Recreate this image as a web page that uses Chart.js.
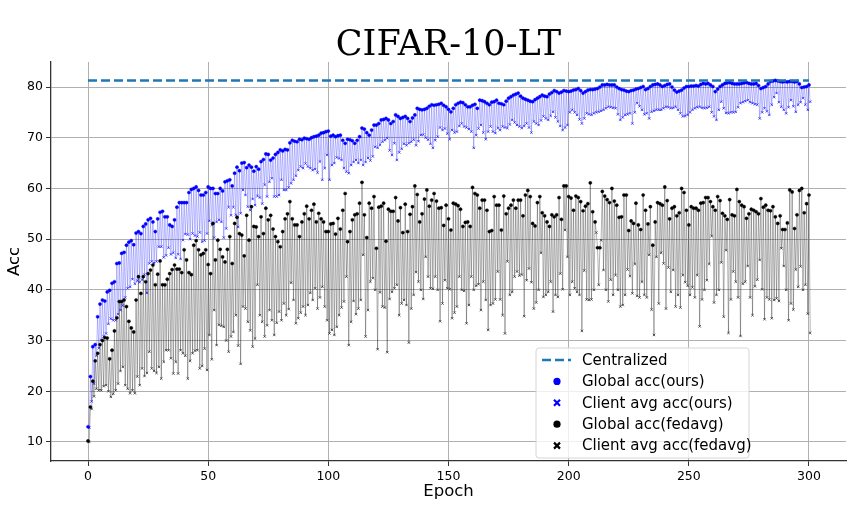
<!DOCTYPE html>
<html>
<head>
<meta charset="utf-8">
<title>CIFAR-10-LT</title>
<script src="https://cdn.jsdelivr.net/npm/chart.js@4.4.1/dist/chart.umd.min.js"></script>
<style>
  html, body { margin: 0; padding: 0; background: #fff; }
  canvas { display: block; }
</style>
</head>
<body>
<canvas id="chart" width="863" height="518"></canvas>
<script>
// Values, one per epoch (0..300)
const globalOurs = [
  13.0, 22.9, 28.8, 29.2, 34.7, 37.2, 38.0, 37.8, 39.6, 39.9,
  41.3, 41.6, 45.2, 45.3, 47.2, 47.4, 48.8, 49.4, 49.7, 48.9,
  51.2, 51.5, 51.1, 52.5, 53.0, 53.8, 54.1, 53.4, 51.5, 54.0,
  55.3, 55.5, 54.4, 54.4, 52.8, 52.5, 53.8, 56.3, 57.2, 57.2,
  57.2, 57.2, 59.2, 59.8, 60.0, 60.3, 59.6, 58.7, 58.7, 59.2,
  60.3, 60.0, 60.0, 59.0, 59.0, 60.0, 59.5, 61.3, 61.5, 61.7,
  60.5, 63.0, 64.2, 63.5, 65.0, 65.1, 64.1, 64.6, 64.2, 63.4,
  64.3, 63.8, 65.3, 65.7, 66.8, 66.7, 65.6, 66.0, 66.7, 67.1,
  67.6, 67.4, 67.7, 67.6, 69.0, 69.5, 69.3, 69.2, 69.7, 69.6,
  69.9, 69.8, 69.7, 70.0, 70.2, 70.3, 70.5, 70.9, 71.0, 71.2,
  71.3, 70.3, 70.5, 70.2, 70.4, 70.5, 69.5, 68.9, 69.7, 69.6,
  69.4, 68.9, 69.5, 70.2, 71.9, 71.7, 71.0, 70.5, 71.5, 72.5,
  72.5, 72.8, 73.5, 73.6, 73.8, 73.5, 72.8, 73.2, 74.5, 74.2,
  73.8, 74.0, 74.2, 73.8, 73.2, 73.9, 74.5, 75.8, 75.6, 75.5,
  75.6, 75.8, 76.2, 76.5, 76.4, 76.5, 76.6, 76.8, 76.4, 76.1,
  75.6, 75.1, 75.8, 76.5, 76.8, 77.0, 76.9, 76.5, 76.1, 76.1,
  76.4, 76.6, 75.8, 77.4, 77.3, 77.1, 76.8, 76.5, 77.0, 77.1,
  77.4, 76.8, 76.7, 76.5, 77.2, 77.8, 78.1, 78.4, 78.6, 78.8,
  78.2, 77.8, 77.6, 77.4, 77.2, 77.1, 77.5, 77.8, 78.1, 78.4,
  78.2, 78.1, 78.6, 78.9, 79.3, 79.1, 78.8, 79.0, 79.3, 79.2,
  79.1, 79.2, 79.4, 79.5, 79.7, 79.3, 78.8, 79.1, 79.4, 79.5,
  79.5, 79.6, 79.7, 80.0, 80.4, 80.4, 80.5, 80.4, 80.4, 80.4,
  80.0, 79.7, 79.5, 79.4, 79.2, 79.1, 79.3, 79.4, 79.6, 79.7,
  79.9, 80.1, 79.5, 79.7, 80.1, 80.4, 80.5, 80.6, 80.4, 80.1,
  80.3, 80.5, 80.6, 80.0, 79.4, 79.0, 79.2, 79.4, 79.8, 80.1,
  80.1, 80.2, 80.2, 80.3, 80.2, 80.5, 80.7, 80.6, 80.7, 80.4,
  80.1, 79.1, 79.6, 80.1, 80.4, 80.7, 80.8, 80.9, 80.7, 80.6,
  80.6, 80.6, 80.7, 80.8, 80.9, 80.7, 80.6, 80.6, 80.7, 80.3,
  79.7, 79.9, 80.1, 80.6, 81.1, 81.2, 81.3, 81.2, 81.1, 81.0,
  81.1, 81.0, 81.1, 81.1, 81.0, 81.1, 80.6, 79.9, 80.0, 80.1,
  80.4
];

const clientOurs = [
  12.8, 18.0, 21.5, 27.0, 28.5, 30.1, 30.8, 31.4, 33.3, 34.3,
  34.0, 34.0, 35.2, 36.0, 36.9, 38.5, 40.3, 40.6, 42.1, 41.2,
  41.8, 41.5, 42.0, 43.0, 39.4, 45.2, 45.6, 45.3, 45.6, 48.5,
  48.5, 46.4, 46.8, 48.3, 47.0, 47.3, 46.3, 47.0, 46.1, 49.8,
  51.0, 50.9, 50.0, 51.1, 50.7, 50.5, 51.3, 49.5, 49.7, 51.1,
  53.6, 52.8, 50.3, 53.4, 53.8, 53.4, 50.3, 52.1, 56.3, 54.7,
  56.3, 54.8, 52.4, 55.1, 59.7, 58.7, 56.4, 55.7, 57.9, 56.7,
  58.5, 58.2, 57.0, 60.7, 58.4, 61.3, 62.0, 58.4, 58.4, 58.7,
  61.7, 59.7, 59.7, 60.2, 61.0, 61.7, 62.5, 63.6, 64.3, 64.0,
  64.9, 64.3, 64.0, 63.6, 63.8, 63.1, 65.3, 61.7, 64.0, 66.6,
  61.7, 64.6, 65.0, 66.1, 65.9, 65.6, 64.0, 63.3, 63.0, 64.6,
  65.2, 65.6, 65.0, 65.6, 64.6, 65.2, 66.0, 65.5, 66.3, 68.2,
  68.0, 68.6, 69.2, 69.5, 69.9, 67.5, 66.6, 68.9, 65.6, 67.1,
  67.8, 68.8, 68.5, 68.9, 69.2, 69.6, 68.5, 69.3, 70.5, 70.6,
  70.0, 69.6, 68.8, 68.0, 69.5, 70.2, 72.0, 71.5, 71.8, 70.8,
  69.7, 71.5, 71.0, 71.2, 72.3, 72.8, 72.2, 72.0, 71.7, 71.2,
  68.0, 70.5, 71.8, 72.5, 71.0, 69.7, 71.2, 72.2, 71.2, 70.9,
  71.9, 71.5, 72.2, 72.0, 71.9, 72.6, 73.5, 73.0, 72.5, 72.2,
  71.9, 72.3, 72.8, 72.0, 71.0, 73.2, 72.8, 72.5, 73.4, 74.2,
  73.8, 73.5, 74.3, 75.1, 74.0, 73.2, 72.3, 71.5, 72.0, 72.5,
  75.0, 75.5, 75.0, 74.5, 73.6, 72.8, 73.8, 74.8, 74.6, 74.5,
  74.8, 75.0, 75.1, 75.3, 75.5, 75.8, 76.1, 76.0, 75.9, 75.8,
  74.6, 73.5, 74.0, 74.5, 74.6, 74.8, 72.8, 75.0, 76.8, 76.2,
  75.5, 74.6, 74.8, 73.8, 75.1, 75.3, 75.5, 75.5, 75.5, 75.8,
  76.1, 76.0, 75.8, 75.9, 76.1, 75.5, 74.8, 74.2, 74.3, 74.5,
  75.0, 75.5, 75.8, 76.0, 76.1, 75.9, 75.8, 75.9, 76.1, 75.0,
  74.2, 73.5, 75.5, 77.1, 75.8, 74.9, 74.8, 75.0, 75.0, 75.1,
  76.0, 76.8, 77.0, 77.2, 77.4, 77.0, 76.8, 76.6, 76.5, 73.8,
  75.0, 75.8, 75.2, 74.5, 76.5, 78.0, 78.8, 77.0, 76.1, 75.5,
  74.8, 76.0, 77.4, 76.2, 75.1, 76.5, 77.0, 77.8, 76.5, 75.5,
  77.1
];

const globalFedavg = [
  10.2, 16.9, 22.0, 26.0, 27.5, 29.2, 30.0, 30.6, 30.5, 26.4,
  28.1, 31.9, 34.5, 37.7, 37.7, 38.0, 36.7, 33.8, 32.5, 31.7,
  38.0, 42.6, 39.3, 42.6, 41.6, 43.2, 43.9, 44.9, 41.0, 43.1,
  45.7, 41.0, 41.0, 42.1, 43.2, 44.0, 44.9, 44.1, 44.1, 43.4,
  47.9, 45.9, 43.4, 43.0, 48.8, 49.7, 47.9, 46.9, 47.2, 47.9,
  45.0, 43.2, 53.1, 45.9, 49.8, 48.0, 46.5, 45.5, 48.0, 50.5,
  45.2, 53.1, 54.3, 51.1, 50.8, 46.7, 54.7, 49.8, 56.4, 52.5,
  52.4, 50.5, 54.4, 51.1, 56.1, 53.8, 54.7, 52.0, 50.5, 49.5,
  48.5, 51.5, 54.0, 55.0, 57.4, 54.0, 52.8, 52.8, 50.5, 53.4,
  55.0, 56.5, 54.0, 55.7, 56.9, 53.4, 55.1, 54.0, 53.4, 51.5,
  51.5, 53.0, 53.1, 51.0, 54.1, 52.0, 55.7, 59.0, 49.5, 51.5,
  53.8, 54.8, 55.0, 57.1, 61.2, 54.8, 50.3, 57.1, 56.1, 58.4,
  48.2, 56.3, 56.5, 57.1, 49.6, 55.9, 55.5, 55.5, 58.2, 53.6,
  56.2, 51.3, 56.9, 51.5, 54.9, 56.4, 60.5, 58.8, 53.4, 55.0,
  57.9, 59.7, 56.5, 57.7, 59.0, 57.5, 56.1, 56.2, 52.7, 56.7,
  54.0, 51.8, 57.1, 56.9, 56.6, 55.9, 52.5, 53.3, 53.4, 52.5,
  60.2, 59.0, 58.7, 56.1, 57.7, 57.7, 55.7, 51.5, 51.7, 58.4,
  56.7, 56.7, 51.8, 58.5, 55.0, 56.1, 56.7, 57.7, 56.1, 57.7,
  57.7, 54.6, 58.7, 59.6, 58.4, 53.1, 52.6, 57.2, 58.4, 55.2,
  54.6, 53.4, 52.5, 54.8, 54.4, 54.8, 58.2, 53.9, 60.5, 60.5,
  58.4, 58.1, 55.7, 58.5, 58.2, 57.4, 55.6, 56.5, 57.0, 61.1,
  55.4, 53.4, 48.3, 48.3, 59.4, 58.5, 57.8, 57.2, 60.0, 57.5,
  56.7, 54.3, 54.4, 58.7, 58.7, 51.7, 53.6, 53.1, 57.1, 52.8,
  51.9, 58.7, 55.7, 53.0, 56.4, 48.8, 53.4, 57.2, 57.0, 56.7,
  60.3, 57.6, 54.0, 56.1, 56.4, 54.6, 55.2, 60.0, 59.2, 55.7,
  52.8, 56.4, 56.1, 56.1, 55.7, 57.1, 57.2, 58.2, 58.2, 57.4,
  56.4, 55.7, 58.4, 57.6, 55.1, 54.6, 53.9, 57.8, 54.8, 54.6,
  59.8, 57.4, 56.7, 56.4, 54.1, 55.0, 55.9, 55.7, 55.4, 55.0,
  58.0, 56.3, 56.7, 55.7, 55.6, 56.4, 54.4, 53.1, 54.6, 51.9,
  51.9, 53.2, 59.7, 59.3, 52.1, 54.8, 59.6, 60.0, 55.2, 57.0,
  58.7
];

const clientFedavg = [
  10.0, 16.5, 19.0, 20.5, 20.2, 20.2, 21.0, 21.2, 20.0, 18.9,
  19.5, 20.2, 21.5, 24.0, 24.8, 21.2, 20.5, 19.6, 20.2, 19.6,
  22.9, 21.2, 24.5, 23.0, 23.6, 27.8, 24.5, 24.0, 23.6, 24.8,
  22.5, 25.8, 28.1, 28.1, 26.5, 23.5, 25.8, 23.5, 28.1, 27.5,
  27.0, 22.5, 26.0, 27.5, 28.0, 28.1, 24.5, 25.0, 28.4, 24.2,
  31.1, 26.3, 36.0, 29.1, 33.1, 32.9, 32.7, 30.0, 27.8, 30.8,
  31.7, 35.0, 29.0, 25.4, 36.7, 36.3, 33.7, 32.0, 28.8, 30.4,
  41.0, 35.0, 33.7, 30.8, 33.0, 36.0, 34.0, 31.1, 33.5, 35.7,
  34.0, 37.3, 35.0, 36.2, 41.4, 38.0, 33.4, 34.4, 35.5, 36.7,
  35.0, 37.0, 39.4, 38.0, 40.3, 36.3, 38.5, 40.6, 36.7, 34.0,
  31.4, 32.1, 31.1, 32.7, 35.0, 36.5, 37.7, 42.6, 29.1, 33.7,
  37.8, 35.2, 36.3, 38.0, 46.9, 30.8, 36.0, 41.6, 42.3, 40.0,
  28.3, 39.5, 36.7, 36.5, 27.7, 38.2, 39.6, 40.3, 41.0, 35.0,
  37.3, 38.0, 37.0, 29.6, 36.3, 39.0, 43.5, 41.6, 40.0, 38.2,
  46.5, 42.6, 40.3, 40.2, 42.6, 40.0, 33.8, 37.3, 41.9, 40.3,
  40.1, 34.4, 35.5, 36.7, 42.6, 40.0, 39.8, 33.4, 37.0, 42.6,
  40.0, 40.8, 41.1, 36.0, 41.6, 38.0, 32.1, 37.0, 37.3, 38.1,
  43.6, 38.1, 35.0, 31.4, 45.6, 39.0, 39.6, 42.6, 43.6, 42.8,
  43.0, 34.8, 41.9, 44.2, 41.5, 36.3, 37.5, 40.0, 47.3, 38.6,
  39.0, 39.6, 41.6, 35.7, 39.0, 38.6, 43.2, 40.1, 51.8, 46.5,
  39.0, 41.6, 40.3, 39.6, 39.0, 31.9, 43.8, 38.1, 38.0, 38.1,
  40.0, 51.3, 41.0, 49.8, 43.9, 40.0, 37.7, 42.0, 39.0, 42.9,
  40.0, 36.7, 37.0, 39.0, 44.0, 42.7, 39.3, 45.1, 38.8, 38.5,
  41.6, 39.0, 38.5, 46.9, 36.1, 31.1, 46.5, 37.3, 47.3, 45.2,
  36.3, 44.4, 39.6, 43.9, 36.7, 39.0, 36.5, 42.9, 41.5, 40.8,
  39.0, 40.5, 38.5, 42.9, 32.8, 38.1, 40.0, 41.9, 45.1, 50.6,
  37.5, 39.0, 40.0, 45.4, 34.7, 47.8, 31.5, 38.1, 43.6, 41.6,
  38.5, 30.9, 41.2, 41.6, 44.7, 38.5, 35.0, 40.7, 42.0, 45.9,
  40.1, 34.2, 38.5, 38.1, 34.4, 38.0, 38.3, 37.8, 48.2, 44.7,
  40.0, 34.0, 37.3, 36.1, 44.0, 40.6, 44.6, 40.0, 41.0, 35.3,
  31.5
];

const centralizedAcc = 81.3;
const lastEpoch = 300;

const xTicks = [0, 50, 100, 150, 200, 250, 300];
const yTicks = [10, 20, 30, 40, 50, 60, 70, 80];

const legendItems = [
  { text: 'Centralized', kind: 'dash', color: '#1f77b4' },
  { text: 'Global acc(ours)', kind: 'dot', color: '#0000ff' },
  { text: 'Client avg acc(ours)', kind: 'cross', color: '#0000ff' },
  { text: 'Global acc(fedavg)', kind: 'dot', color: '#000000' },
  { text: 'Client avg acc(fedavg)', kind: 'cross', color: '#000000' }
];

Chart.defaults.font.family = '"DejaVu Sans", sans-serif';
Chart.defaults.color = '#000';

// client value sits half an epoch after the global one, so the line zigzags
const clientShift = 0.5;

function toPoints(values, shift) {
  return values.map((v, i) => ({ x: i + shift, y: v }));
}

// global, client, global, client ...
function zigzag(globalVals, clientVals) {
  const out = [];
  globalVals.forEach((v, i) => {
    out.push({ x: i, y: v });
    out.push({ x: i + clientShift, y: clientVals[i] });
  });
  return out;
}

// title, axis titles and the legend box drawn on top of the chart
const decorations = {
  id: 'decorations',
  afterDraw(chart) {
    const ctx = chart.ctx;
    const area = chart.chartArea;
    ctx.save();

    ctx.fillStyle = '#000';
    ctx.font = '35px "DejaVu Serif", serif';
    ctx.textAlign = 'center';
    ctx.textBaseline = 'alphabetic';
    ctx.fillText('CIFAR-10-LT', (area.left + area.right) / 2, 55);

    ctx.font = '16.5px "DejaVu Sans", sans-serif';
    ctx.textBaseline = 'middle';
    ctx.fillText('Epoch', (area.left + area.right) / 2, 492);

    ctx.save();
    ctx.translate(15, (area.top + area.bottom) / 2);
    ctx.rotate(-Math.PI / 2);
    ctx.fillText('Acc', 0, 0);
    ctx.restore();

    // legend box
    const bx = 536, by = 348, bw = 213, bh = 110, r = 3;
    ctx.beginPath();
    ctx.moveTo(bx + r, by);
    ctx.lineTo(bx + bw - r, by);
    ctx.quadraticCurveTo(bx + bw, by, bx + bw, by + r);
    ctx.lineTo(bx + bw, by + bh - r);
    ctx.quadraticCurveTo(bx + bw, by + bh, bx + bw - r, by + bh);
    ctx.lineTo(bx + r, by + bh);
    ctx.quadraticCurveTo(bx, by + bh, bx, by + bh - r);
    ctx.lineTo(bx, by + r);
    ctx.quadraticCurveTo(bx, by, bx + r, by);
    ctx.closePath();
    ctx.fillStyle = 'rgba(255,255,255,0.8)';
    ctx.fill();
    ctx.strokeStyle = '#d6d6d6';
    ctx.lineWidth = 1;
    ctx.stroke();

    ctx.font = '15px "DejaVu Sans", sans-serif';
    ctx.textAlign = 'left';
    legendItems.forEach((item, i) => {
      const y = 360 + i * 21.4;
      const hx = 557;
      ctx.strokeStyle = item.color;
      ctx.fillStyle = item.color;
      if (item.kind === 'dash') {
        ctx.lineWidth = 2.5;
        ctx.setLineDash([9, 4]);
        ctx.beginPath();
        ctx.moveTo(542, y);
        ctx.lineTo(571, y);
        ctx.stroke();
        ctx.setLineDash([]);
      } else if (item.kind === 'dot') {
        ctx.beginPath();
        ctx.arc(hx, y, 3.6, 0, Math.PI * 2);
        ctx.fill();
      } else {
        ctx.lineWidth = 2.2;
        ctx.beginPath();
        ctx.moveTo(hx - 3, y - 3);
        ctx.lineTo(hx + 3, y + 3);
        ctx.moveTo(hx - 3, y + 3);
        ctx.lineTo(hx + 3, y - 3);
        ctx.stroke();
      }
      ctx.fillStyle = '#000';
      ctx.fillText(item.text, 582, y + 1);
    });

    ctx.restore();
  }
};

const ctx = document.getElementById('chart').getContext('2d');
const myChart = new Chart(ctx, {
  type: 'scatter',
  data: {
    datasets: [
      {
        label: 'Centralized',
        data: [{ x: 0, y: centralizedAcc }, { x: lastEpoch, y: centralizedAcc }],
        showLine: true,
        borderColor: '#1f77b4',
        borderWidth: 2.5,
        borderDash: [9, 4],
        pointRadius: 0,
        order: 0
      },
      {
        label: 'Global acc(fedavg)',
        data: toPoints(globalFedavg, 0),
        pointStyle: 'circle',
        pointRadius: 1.6,
        backgroundColor: '#000',
        borderColor: '#000',
        borderWidth: 0.4,
        order: 1
      },
      {
        label: 'Client avg acc(fedavg)',
        data: toPoints(clientFedavg, clientShift),
        pointStyle: 'crossRot',
        pointRadius: 1.7,
        borderColor: '#333',
        borderWidth: 0.8,
        order: 2
      },
      {
        label: 'fedavg line',
        data: zigzag(globalFedavg, clientFedavg),
        showLine: true,
        borderColor: 'rgba(0,0,0,0.38)',
        borderWidth: 0.8,
        pointRadius: 0,
        order: 3
      },
      {
        label: 'Global acc(ours)',
        data: toPoints(globalOurs, 0),
        pointStyle: 'circle',
        pointRadius: 1.6,
        backgroundColor: '#0000ff',
        borderColor: '#0000ff',
        borderWidth: 0.4,
        order: 4
      },
      {
        label: 'Client avg acc(ours)',
        data: toPoints(clientOurs, clientShift),
        pointStyle: 'crossRot',
        pointRadius: 1.7,
        borderColor: '#2020ff',
        borderWidth: 0.8,
        order: 5
      },
      {
        label: 'ours line',
        data: zigzag(globalOurs, clientOurs),
        showLine: true,
        borderColor: 'rgba(0,0,255,0.33)',
        borderWidth: 0.8,
        pointRadius: 0,
        order: 6
      }
    ]
  },
  options: {
    responsive: false,
    animation: false,
    events: [],
    layout: { padding: { top: 62, right: 17, left: 0, bottom: 0 } },
    plugins: {
      legend: { display: false },
      tooltip: { enabled: false },
      title: { display: false }
    },
    scales: {
      x: {
        type: 'linear',
        min: -15.4,
        max: 315.4,
        afterBuildTicks: (scale) => { scale.ticks = xTicks.map(v => ({ value: v })); },
        afterFit: (scale) => { scale.height = 57; },
        grid: { color: '#b0b0b0', lineWidth: 1, tickLength: 5, tickColor: '#333' },
        border: { color: '#333', width: 1.3 },
        ticks: { font: { size: 12.5 }, padding: 3, maxRotation: 0, color: '#000' }
      },
      y: {
        type: 'linear',
        min: 6.25,
        max: 84.93,
        afterBuildTicks: (scale) => { scale.ticks = yTicks.map(v => ({ value: v })); },
        afterFit: (scale) => { scale.width = 51; },
        grid: { color: '#b0b0b0', lineWidth: 1, tickLength: 5, tickColor: '#333' },
        border: { color: '#333', width: 1.3 },
        ticks: { font: { size: 12.5 }, padding: 3, color: '#000' }
      }
    }
  },
  plugins: [decorations]
});
</script>
</body>
</html>
